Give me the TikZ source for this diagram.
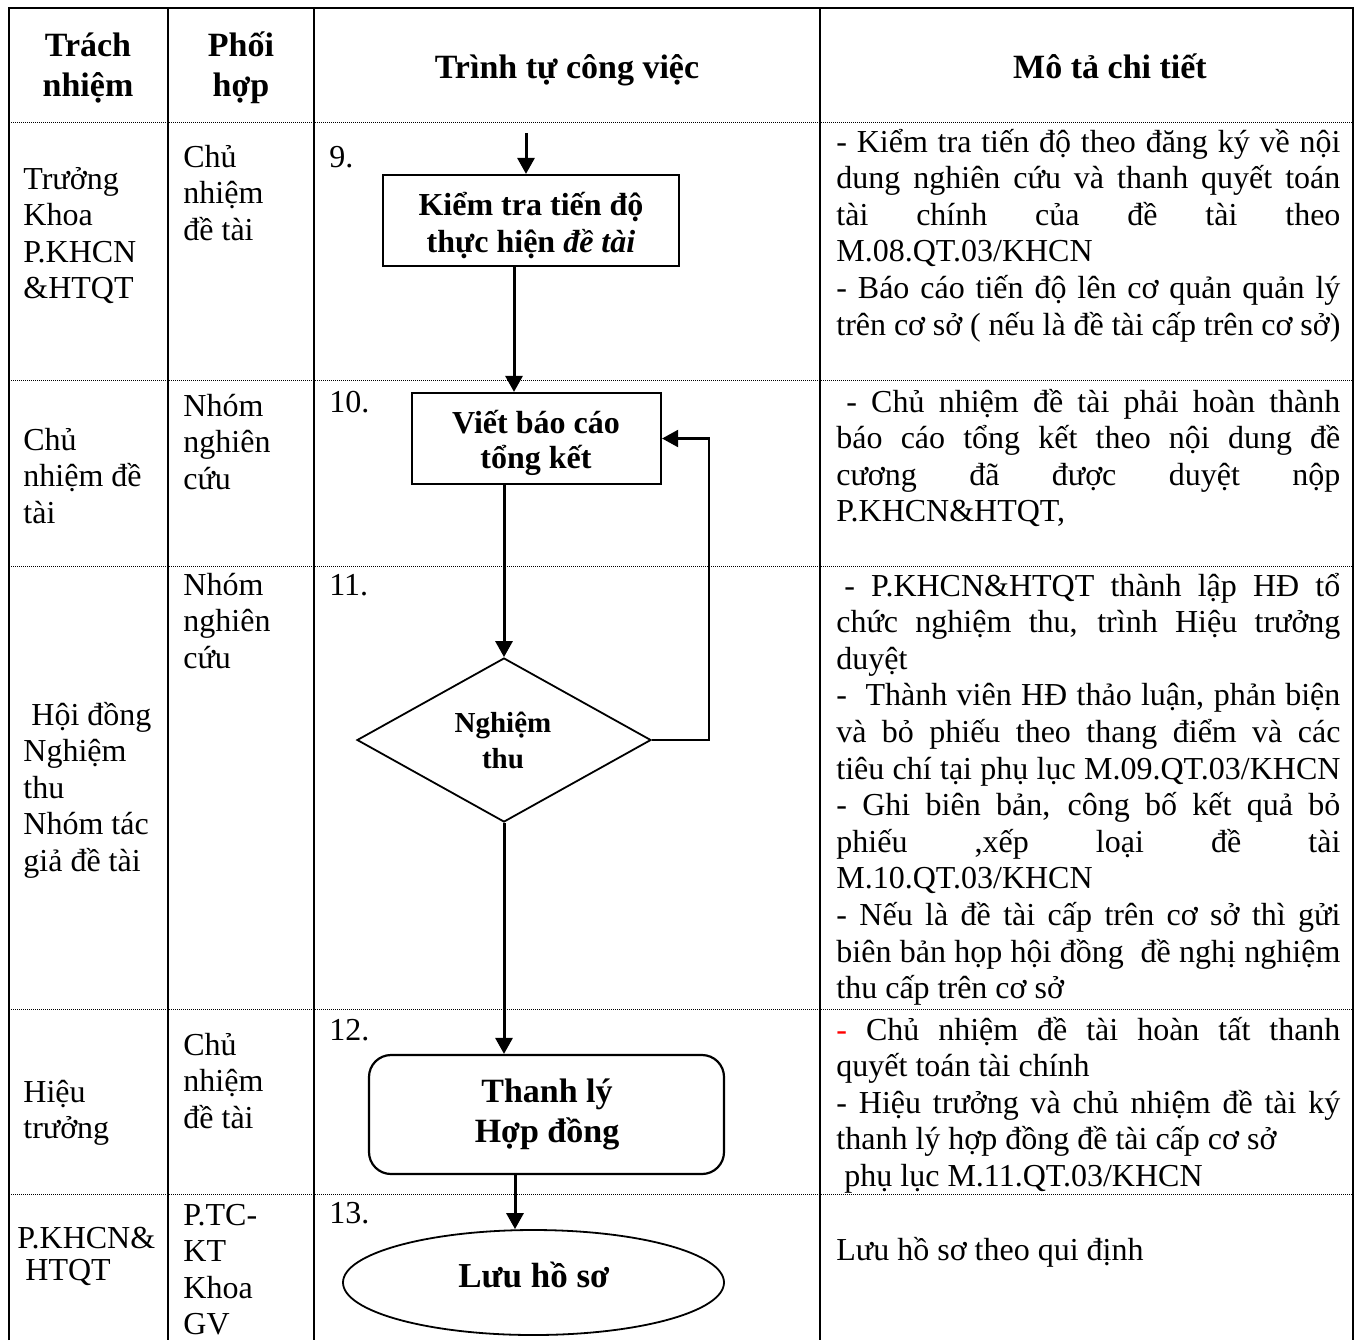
\documentclass[tikz,border=0pt]{standalone}
\usepackage{fontspec}
\setmainfont{Liberation Serif}
\usetikzlibrary{shapes.geometric,arrows.meta}
\newcommand{\JL}[1]{\makebox[252pt][s]{#1}}
\newcommand{\cellrows}[5][36.6]{\foreach \tx [count=\nn] in {#5} {\node[txt] (#2-\nn) at (#3,{#4+#1*(\nn-1)}) {\tx};}}
\tikzset{
 txt/.style={anchor=base west, inner sep=0pt, font=\fontsize{16}{19}\selectfont},
 ctxt/.style={anchor=base, inner sep=0pt},
 hdr/.style={ctxt, font=\fontsize{17}{20}\selectfont\bfseries},
 boxtxt/.style={ctxt, font=\fontsize{16}{19}\selectfont\bfseries},
 border/.style={line width=1.4pt},
 sepline/.style={line width=0.5pt, dash pattern=on 0.5pt off 0.5pt},
 box/.style={draw, line width=1.1pt, inner sep=0pt, rectangle},
 arr/.style={line width=1.5pt, -{Triangle[length=8pt,width=8.5pt]}},
}
\begin{document}
\begin{tikzpicture}[x=0.5pt,y=-0.5pt]
\useasboundingbox (0,0) rectangle (1360,1340);
% table
\draw[border] (9,1340) -- (9,8) -- (1353,8) -- (1353,1340);
\foreach \xx in {168,314,820} \draw[border] (\xx,8) -- (\xx,1340);
\foreach \yy in {122,380,566,1009,1194} \draw[sepline] (9,\yy) -- (1353,\yy);
% header
\node[hdr] (h1a) at (88,56) {Trách};
\node[hdr] (h1b) at (88,96) {nhiệm};
\node[hdr] (h2a) at (241,56) {Phối};
\node[hdr] (h2b) at (241,96) {hợp};
\node[hdr] (h3) at (567,78) {Trình tự công việc};
\node[hdr] (h4) at (1110,78) {Mô tả chi tiết};
% column 1
\cellrows{ca}{23}{189}{Trưởng,Khoa,P.KHCN,\&HTQT}
\cellrows{cb}{23}{450}{Chủ,nhiệm đề,tài}
\cellrows{cc}{23}{725}{{\hspace{4pt}Hội đồng},Nghiệm,thu,Nhóm tác,giả đề tài}
\cellrows{cd}{23}{1102}{Hiệu,trưởng}
\cellrows[32]{ce}{17}{1248}{P.KHCN\&,{\hspace{4pt}HTQT}}
% column 2
\cellrows{pa}{183}{167}{Chủ,nhiệm,đề tài}
\cellrows{pb}{183}{416}{Nhóm,nghiên,cứu}
\cellrows{pc}{183}{595}{Nhóm,nghiên,cứu}
\cellrows{pd}{183}{1055}{Chủ,nhiệm,đề tài}
\cellrows{pe}{183}{1225}{P.TC-,KT,Khoa,GV}
% step numbers
\node[txt] (n9) at (329,167) {9.};
\node[txt] (n10) at (329,412) {10.};
\node[txt] (n11) at (329,595) {11.};
\node[txt] (n12) at (329,1040) {12.};
\node[txt] (n13) at (329,1223) {13.};
% description
\cellrows{da}{836}{152}{{\JL{- Kiểm tra tiến độ theo đăng ký về nội}},{\JL{dung nghiên cứu và thanh quyết toán}},{\JL{tài chính của đề tài theo}},{M.08.QT.03/KHCN},{\JL{- Báo cáo tiến độ lên cơ quản quản lý}},{\JL{trên cơ sở ( nếu là đề tài cấp trên cơ sở)}}}
\cellrows{db}{836}{412}{{\JL{\hspace{5pt}- Chủ nhiệm đề tài phải hoàn thành}},{\JL{báo cáo tổng kết theo nội dung đề}},{\JL{cương đã được duyệt nộp}},{P.KHCN\&HTQT,}}
\cellrows{dc}{836}{596}{{\JL{\hspace{4pt}- P.KHCN\&HTQT thành lập HĐ tổ}},{\JL{chức nghiệm thu, trình Hiệu trưởng}},{duyệt},{\JL{-\ \ Thành viên HĐ thảo luận, phản biện}},{\JL{và bỏ phiếu theo thang điểm và các}},{\JL{tiêu chí tại phụ lục M.09.QT.03/KHCN}},{\JL{- Ghi biên bản, công bố kết quả bỏ}},{\JL{phiếu ,xếp loại đề tài}},{M.10.QT.03/KHCN},{\JL{- Nếu là đề tài cấp trên cơ sở thì gửi}},{\JL{biên bản họp hội đồng\ \ đề nghị nghiệm}},{thu cấp trên cơ sở}}
\cellrows{dd}{836}{1040}{{\JL{\textcolor{red}{-} Chủ nhiệm đề tài hoàn tất thanh}},{quyết toán tài chính},{\JL{- Hiệu trưởng và chủ nhiệm đề tài ký}},{thanh lý hợp đồng đề tài cấp cơ sở},{\hspace{4pt}phụ lục M.11.QT.03/KHCN}}
\node[txt] (de) at (836,1260) {Lưu hồ sơ theo qui định};
% flow shapes
\node[box, minimum width=148pt, minimum height=45.5pt] (b1) at (531,220.5) {};
\node[box, minimum width=124.5pt, minimum height=45.5pt] (b2) at (536.5,438.5) {};
\node[draw, diamond, line width=0.9pt, inner sep=0pt, minimum width=147pt, minimum height=82pt] (d) at (504,740) {};
\node[box, rounded corners=11pt, minimum width=177.5pt, minimum height=59.5pt] (r) at (546.5,1114.5) {};
\node[draw, ellipse, line width=0.9pt, inner sep=0pt, minimum width=190.5pt, minimum height=52.5pt] (e) at (533.5,1282.5) {};
% flow texts
\node[boxtxt] (t1a) at (531,215) {Kiểm tra tiến độ};
\node[boxtxt] (t1b) at (531,252) {thực hiện \textit{đề tài}};
\node[boxtxt] (t2a) at (536,433) {Viết báo cáo};
\node[boxtxt] (t2b) at (536,468) {tổng kết};
\node[ctxt, font=\fontsize{14.5}{17}\selectfont\bfseries] (t3a) at (503,732) {Nghiệm};
\node[ctxt, font=\fontsize{14.5}{17}\selectfont\bfseries] (t3b) at (503,768) {thu};
\node[ctxt, font=\fontsize{17}{20}\selectfont\bfseries] (t4a) at (547,1102) {Thanh lý};
\node[ctxt, font=\fontsize{17}{20}\selectfont\bfseries] (t4b) at (547,1142) {Hợp đồng};
\node[ctxt, font=\fontsize{17.5}{20}\selectfont\bfseries] (t5) at (534,1287) {Lưu hồ sơ};
% connectors
\coordinate (in1) at (526,133);
\coordinate (x2) at (514,0);
\coordinate (x5) at (515,0);
\coordinate (lp) at (709,0);
\draw[arr] (in1) -- (in1 |- b1.north);
\draw[arr] (b1.south -| x2) -- (b2.north -| x2);
\draw[arr] (b2.south -| d.north) -- (d.north);
\draw[arr] (d.south) -- (r.north -| d.south);
\draw[arr] (r.south -| x5) -- (e.north -| x5);
\draw[arr, line width=1.1pt] (d.east) -- (d.east -| lp) -- (b2.east -| lp) -- (b2.east);
\end{tikzpicture}
\end{document}
